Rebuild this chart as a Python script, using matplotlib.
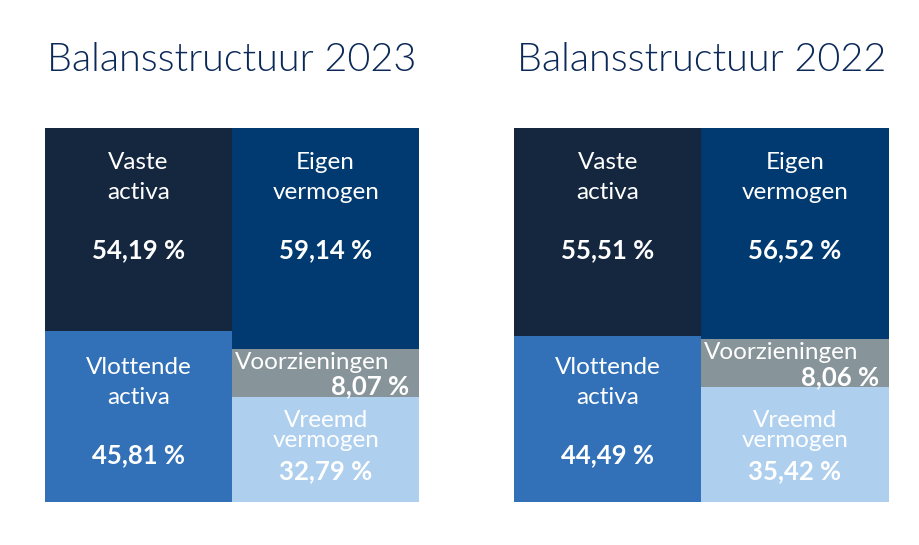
import matplotlib.pyplot as plt

years = ['2023', '2022']
vaste = [54.19, 55.51]
vlottende = [45.81, 44.49]
eigen = [59.14, 56.52]
voorzieningen = [8.07, 8.06]
vreemd = [32.79, 35.42]

c_vaste = '#14273f'
c_eigen = '#003a70'
c_vlot = '#3271b8'
c_voorz = '#87949a'
c_vreemd = '#aecfee'
c_title = '#0a2858'

MIN_SHARE = 12.8  # kleine segmenten krijgen ruimte voor hun label

plt.rcParams['font.family'] = ['Lato', 'DejaVu Sans']


def pct(v):
    return f"{v:.2f}".replace('.', ',') + ' %'


fig = plt.figure(figsize=(9.2, 5.45), dpi=100)
lefts = [0.0486, 0.5587]
fs = 17.5
fs_pct = 18.5

for i, year in enumerate(years):
    ax = fig.add_axes([lefts[i], 0.0789, 0.4072, 0.6862])
    ax.set_xlim(0, 2)
    ax.set_ylim(100, 0)
    ax.axis('off')

    # links: activa
    ax.bar(0.5, vaste[i], width=1, bottom=0, color=c_vaste)
    ax.bar(0.5, vlottende[i], width=1, bottom=vaste[i], color=c_vlot)

    # rechts: passiva (voorzieningen minimaal MIN_SHARE hoog, ten koste van vreemd vermogen)
    v_disp = max(voorzieningen[i], MIN_SHARE)
    vr_disp = vreemd[i] - (v_disp - voorzieningen[i])
    ax.bar(1.5, eigen[i], width=1, bottom=0, color=c_eigen)
    ax.bar(1.5, v_disp, width=1, bottom=eigen[i], color=c_voorz)
    ax.bar(1.5, vr_disp, width=1, bottom=eigen[i] + v_disp, color=c_vreemd)

    kw = dict(color='white', ha='center', va='baseline', fontsize=fs)
    kwb = dict(color='white', ha='center', va='baseline', fontsize=fs_pct,
               fontweight='bold')
    # Vaste activa
    ax.text(0.5, 11.0, 'Vaste', **kw)
    ax.text(0.5, 19.0, 'activa', **kw)
    ax.text(0.5, 34.8, pct(vaste[i]), **kwb)
    # Eigen vermogen
    ax.text(1.5, 11.0, 'Eigen', **kw)
    ax.text(1.5, 19.0, 'vermogen', **kw)
    ax.text(1.5, 34.8, pct(eigen[i]), **kwb)
    # Vlottende activa (vanaf onderkant)
    ax.text(0.5, 100 - 34.2, 'Vlottende', **kw)
    ax.text(0.5, 100 - 26.2, 'activa', **kw)
    ax.text(0.5, 100 - 10.4, pct(vlottende[i]), **kwb)
    # Voorzieningen
    ax.text(1.014, eigen[i] + 5.3, 'Voorzieningen', color='white',
            ha='left', va='baseline', fontsize=fs)
    ax.text(1.947, eigen[i] + 12.1, pct(voorzieningen[i]), color='white',
            ha='right', va='baseline', fontsize=fs_pct, fontweight='bold')
    # Vreemd vermogen
    ax.text(1.5, 100 - 20.1, 'Vreemd', **kw)
    ax.text(1.5, 100 - 14.8, 'vermogen', **kw)
    ax.text(1.5, 100 - 6.1, pct(vreemd[i]), **kwb)

    ax.text(1.0, -15.2, 'Balansstructuur ' + year, color=c_title,
            ha='center', va='baseline', fontsize=28.5, fontweight=300)

fig.savefig('out.png', dpi=100)
